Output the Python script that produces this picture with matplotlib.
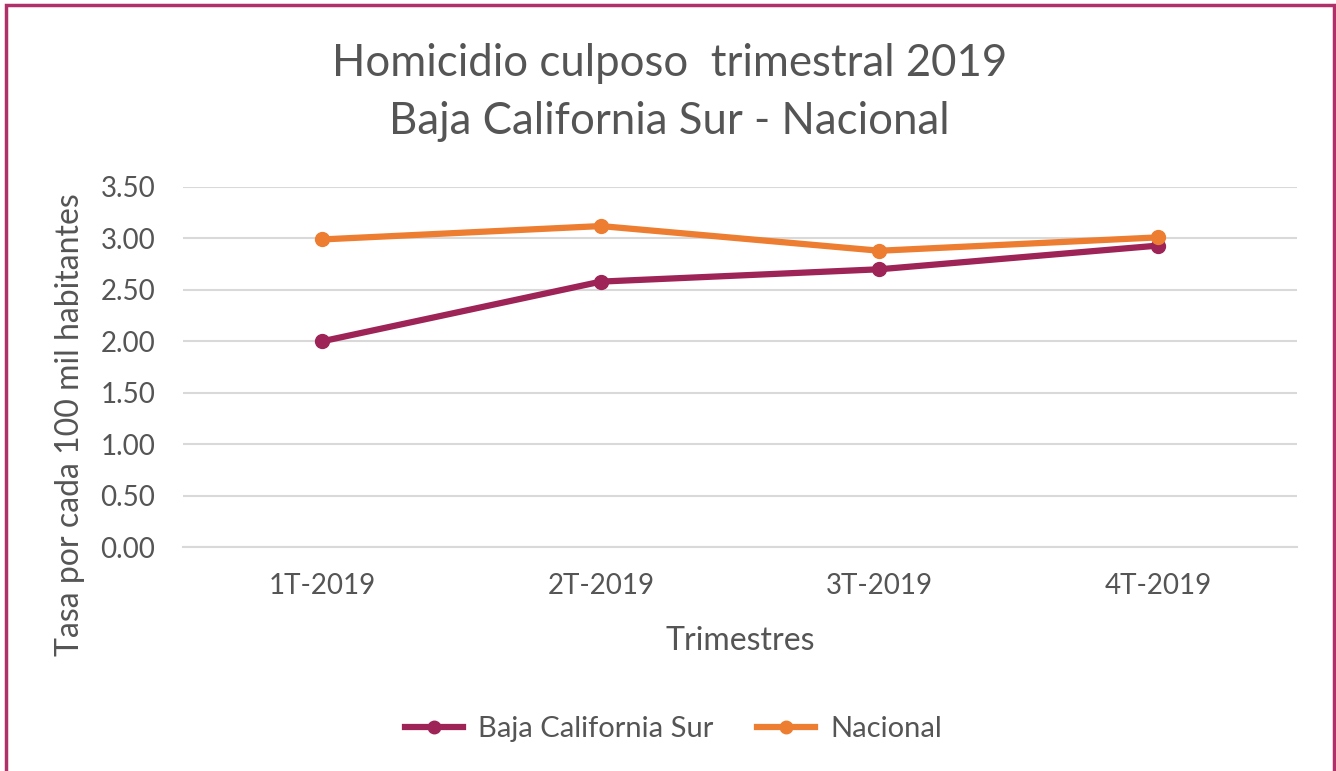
import matplotlib.pyplot as plt
import matplotlib.patches as mpatches

# datos
trimestres = ['1T-2019', '2T-2019', '3T-2019', '4T-2019']
bcs = [2.00, 2.58, 2.70, 2.93]
nacional = [2.99, 3.12, 2.88, 3.01]
yticks = [0.0, 0.5, 1.0, 1.5, 2.0, 2.5, 3.0, 3.5]

col_bcs = '#9E2457'
col_nac = '#ED7D31'
txt = '#555555'

plt.rcParams['font.family'] = ['Lato', 'DejaVu Sans']

fig = plt.figure(figsize=(13.36, 7.71), dpi=100)
ax = fig.add_axes([0.137, 0.2905, 0.834, 0.467])

x = range(len(trimestres))
ax.plot(x, bcs, '-o', color=col_bcs, lw=4.5, ms=10, label='Baja California Sur', zorder=3)
ax.plot(x, nacional, '-o', color=col_nac, lw=4.5, ms=10, label='Nacional', zorder=3)

ax.set_xlim(-0.5, 3.5)
ax.set_ylim(0, 3.5)
ax.set_yticks(yticks)
ax.set_yticklabels(['{:.2f}'.format(v) for v in yticks])
ax.set_xticks(list(x))
ax.set_xticklabels(trimestres)
ax.grid(axis='y', color='#D9D9D9', lw=1.5)
ax.set_axisbelow(True)
for s in ax.spines.values():
    s.set_visible(False)
ax.spines['bottom'].set_visible(True)
ax.spines['bottom'].set_color('#D9D9D9')
ax.spines['bottom'].set_linewidth(1.5)
ax.tick_params(length=0, labelsize=20, colors=txt, pad=19)
ax.tick_params(axis='y', pad=20)

ax.set_xlabel('Trimestres', fontsize=23, color=txt)
ax.xaxis.set_label_coords(0.5, -0.218)
ax.set_ylabel('Tasa por cada 100 mil habitantes', fontsize=23, color=txt)
ax.yaxis.set_label_coords(-0.088, 0.34)

fig.text(0.501, 0.917, 'Homicidio culposo  trimestral 2019', ha='center', va='center',
         fontsize=31.5, color=txt)
fig.text(0.501, 0.843, 'Baja California Sur - Nacional', ha='center', va='center',
         fontsize=31.5, color=txt)

leg = fig.legend(loc='center', bbox_to_anchor=(0.504, 0.054), ncol=2, frameon=False,
                 fontsize=21, labelcolor=txt, handlelength=2.0, handletextpad=0.5,
                 columnspacing=1.5, markerscale=0.9)

# marco exterior
fig.patches.append(mpatches.Rectangle((0.0045, -0.01), 0.994, 1.0035, transform=fig.transFigure,
                                      fill=False, edgecolor='#B0306A', lw=2.5))

fig.savefig('out.png', dpi=100)
